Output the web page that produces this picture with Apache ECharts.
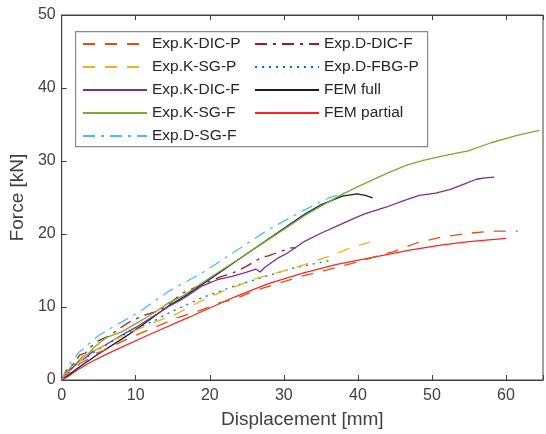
<!DOCTYPE html>
<html><head><meta charset="utf-8">
<script src="https://cdn.jsdelivr.net/npm/echarts@6/dist/echarts.min.js"></script>
<style>html,body{margin:0;padding:0;background:#fff}#c{width:546px;height:434px}</style>
</head><body><div id="c"></div>
<script>
var seriesNames = ['Exp.K-DIC-P','Exp.K-SG-P','Exp.K-DIC-F','Exp.K-SG-F','Exp.D-SG-F','Exp.D-DIC-F','Exp.D-FBG-P','FEM full','FEM partial'];
var xTicks = [0,10,20,30,40,50,60];
var yTicks = [0,10,20,30,40,50];

var kDicP = [[0,0],[0.8,0.9],[1.6,1.4],[2.5,2.3],[3.5,2.8],[4.5,3.6],[5.8,4.1],[6.8,4.6],[9,5.7],[12.5,7.2],[15.5,8.5],[18.1,9.3],[21.4,10.6],[23.4,11.1],[26,12.2],[28.8,13.1],[32.3,14.2],[35.9,15.1],[40,16.2],[44.8,17.6],[48,18.8],[51.4,19.6],[55,20.1],[58.1,20.4],[61.6,20.4]];
var kSgP = [[0,0],[0.7,1.0],[1.5,1.9],[2.3,2.4],[3.2,3.3],[4.2,3.9],[5.5,4.6],[7,5.5],[9.5,6.6],[12.5,7.9],[15.6,9.1],[17.2,10.0],[19,10.9],[21.6,12.1],[24,13],[26.5,14],[29.2,14.7],[32.8,15.8],[36.8,17.2],[39,18.1],[41.6,18.9]];
var kDicF = [[0,0],[0.8,1.1],[1.6,1.8],[2.4,2.6],[3.2,3.0],[4.2,3.9],[5.9,4.8],[8,6.1],[10,7.2],[12,8.5],[14.5,10.1],[16,10.9],[17.2,11.7],[19,12.9],[21.2,13.8],[23,14.2],[24.8,14.7],[26.2,15.2],[26.8,14.8],[27.4,15.4],[29.2,16.7],[30.5,17.4],[32.8,19],[35,20.1],[37,21],[39.4,22.1],[41,22.8],[43.9,23.7],[46,24.5],[48.3,25.3],[50.5,25.6],[52.5,26.1],[54.5,26.9],[56,27.5],[57.2,27.7],[58.4,27.8]];
var kSgF = [[0,0],[0.6,0.8],[1.3,1.9],[2,2.3],[2.8,3.2],[3.6,3.6],[4.5,4.6],[6,5.8],[8.1,6.6],[10.3,7.9],[12,8.9],[14.5,10.6],[16.5,11.6],[20,14],[24,16.6],[28,19.3],[32.8,22.5],[35,23.8],[37.6,25.3],[40,26.5],[43.9,28.3],[46.5,29.4],[48.8,30.1],[52,30.8],[54.9,31.4],[58,32.5],[61.5,33.5],[64.5,34.2]];
var dSgF = [[0,0],[0.5,1.2],[1,2.2],[1.6,2.8],[2.3,3.8],[3,4.3],[3.6,4.9],[5,6.1],[6.8,7.2],[10.3,9.2],[14.5,12.2],[19,14.7],[23.4,17.6],[27.9,20.6],[32.8,23.3],[36,24.9],[38.1,25.6]];
var dDicF = [[0,0],[0.5,1.0],[1.1,1.9],[1.7,2.3],[2.4,3.4],[3.2,3.7],[4,4.6],[5,5.4],[6.5,6.1],[8,7.2],[9.4,8.1],[11.2,8.9],[12.5,9.3],[13.9,9.9],[15.2,11.0],[16.3,11.9],[19,13.1],[21.6,14.2],[23,14.6],[24.8,15.5],[26,16.2],[27,16.8],[27.9,17],[29.5,17.6],[31,18.1],[31.6,18.1]];
var dFbgP = [[0,0],[0.7,0.9],[1.5,1.7],[2.5,2.6],[3.5,3.2],[5,4.2],[7,5.4],[9.5,6.8],[12.5,8.1],[14.5,9.2],[19,11.3],[23.4,12.9],[27.9,14.3],[31.4,15.35],[33.5,15.8],[35.9,16.3],[36.5,16.4]];
var femFull = [[0,0],[2,1.5],[5,3.6],[8.1,5.6],[10.3,7.1],[14.5,10.2],[16.5,11.4],[20,13.8],[25,17.3],[29.2,20.2],[32.8,22.7],[35,24],[37.9,25.2],[39.9,25.5],[41,25.3],[42,24.95]];
var femPartial = [[0,0],[1,0.6],[2,1.3],[4,2.5],[6,3.5],[8.1,4.5],[12,6.3],[17.2,8.6],[23.4,11.4],[27.9,13.2],[32.8,14.7],[37,15.8],[42.5,16.9],[47,17.8],[51.4,18.5],[55,18.95],[60,19.4]];

var dataList = [kDicP,kSgP,kDicF,kSgF,dSgF,dDicF,dFbgP,femFull,femPartial];
var colors = ['#D95319','#EDB120','#7E2F8E','#77AC30','#4DBEEE','#A2142F','#0072BD','#111c3a','#FF2222'];
var dashes = [[12,10],[12,10],'solid','solid',[12,6,3,6],[12,6,3,6],[2,5],'solid','solid'];

var font = '"Liberation Sans", Arial, sans-serif';
var series = dataList.map(function(d,i){
  return {
    name: seriesNames[i], type:'line', data:d, symbol:'none', smooth:false,
    xAxisIndex:0, yAxisIndex:0,
    lineStyle:{color:colors[i], width:1.3, type:dashes[i]},
    itemStyle:{color:colors[i]}, z: 10-i
  };
});

var axisCommon = {type:'value', min:0, max:65, interval:10, splitLine:{show:false}};
var chart = echarts.init(document.getElementById('c'), null, {renderer:'canvas'});
chart.setOption({
  animation:false,
  backgroundColor:'#fff',
  grid:{left:61, right:-2, top:15, bottom:51, show:true, borderColor:'#404040', borderWidth:1, containLabel:false},
  graphic:[{type:'rect', left:75, top:31, shape:{width:352, height:115}, style:{fill:'#fff', stroke:'#888', lineWidth:1.2}, z:90}],
  legend:[
    {data:seriesNames.slice(0,5), orient:'vertical', left:82, top:36, padding:0, itemWidth:64, itemHeight:15, itemGap:7, itemTextGap:6,
     itemStyle:{opacity:0},
     textStyle:{fontFamily:font, fontSize:15.5, color:'#262626'}, z:100},
    {data:seriesNames.slice(5), orient:'vertical', left:254, top:36, padding:0, itemWidth:64, itemHeight:15, itemGap:7, itemTextGap:7,
     itemStyle:{opacity:0},
     textStyle:{fontFamily:font, fontSize:15.5, color:'#262626'}, z:100}
  ],
  xAxis:[{type:'value', min:0, max:65, interval:10, position:'bottom',
    name:'Displacement [mm]', nameLocation:'middle', nameGap:30,
    nameTextStyle:{fontFamily:font, fontSize:19, color:'#404040'},
    axisLine:{show:true, lineStyle:{color:'#404040'}},
    axisTick:{show:true, inside:true, length:5, lineStyle:{color:'#404040'}},
    axisLabel:{fontFamily:font, fontSize:16, color:'#404040', margin:8,
      formatter:function(v){return xTicks.indexOf(v)>=0?String(v):'';}},
    splitLine:{show:false}},
    {type:'value', min:0, max:65, interval:10, position:'top',
    axisLine:{show:true, lineStyle:{color:'#404040'}},
    axisTick:{show:true, inside:true, length:5, lineStyle:{color:'#404040'}},
    axisLabel:{show:false}, splitLine:{show:false}}],
  yAxis:{type:'value', min:0, max:50, interval:10,
    name:'Force [kN]', nameLocation:'middle', nameGap:32,
    nameTextStyle:{fontFamily:font, fontSize:19, color:'#404040'},
    axisLine:{show:true, lineStyle:{color:'#404040'}},
    axisTick:{show:true, inside:true, length:5, lineStyle:{color:'#404040'}},
    axisLabel:{fontFamily:font, fontSize:16, color:'#404040', margin:6,
      formatter:function(v){return yTicks.indexOf(v)>=0?String(v):'';}},
    splitLine:{show:false}},
  series:series
});
</script></body></html>
